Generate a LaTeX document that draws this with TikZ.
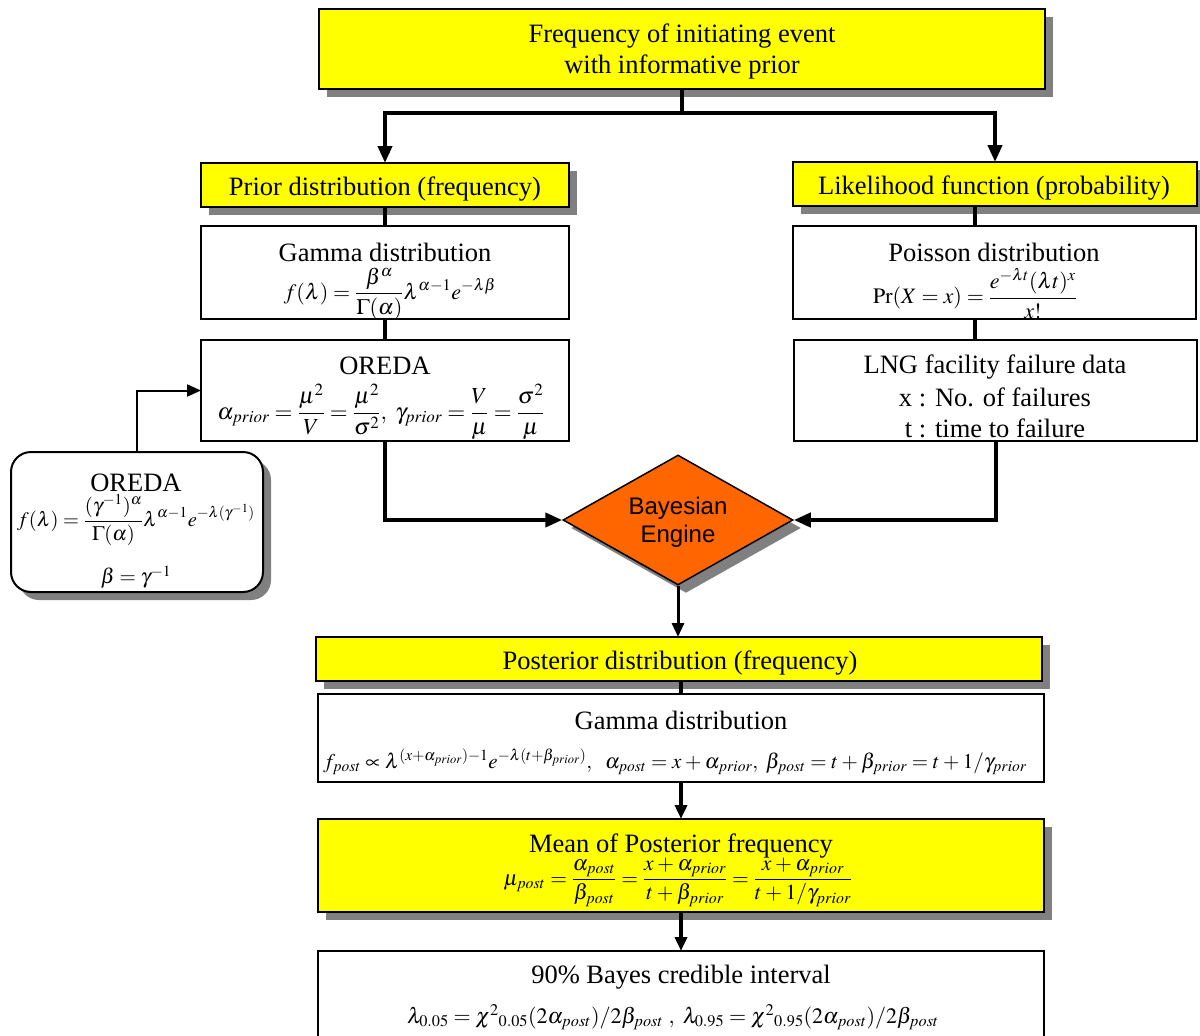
\documentclass[tikz,border=0pt]{standalone}
\usepackage{mathptmx}
\usepackage{fontspec}
\setmainfont{Liberation Serif}
\newfontfamily\arialf{Liberation Sans}
\usetikzlibrary{shapes.geometric,shadows,arrows.meta,calc}
\definecolor{shadowgray}{HTML}{808080}
\definecolor{orng}{HTML}{FF6600}
\definecolor{ylw}{HTML}{FFFF00}
\newcommand{\msz}[1]{\fontsize{#1}{#1}\selectfont\thickmuskip=4mu plus 2mu\medmuskip=3mu plus 1mu}
\tikzset{
  shad/.style={drop shadow={shadow xshift=8pt, shadow yshift=-8pt, fill=shadowgray, opacity=1}},
  ybox/.style={draw=black, line width=2pt, fill=ylw, shad, inner sep=0pt, outer sep=0pt},
  wbox/.style={draw=black, line width=2pt, fill=white, inner sep=0pt, outer sep=0pt},
  txt/.style={font=\fontsize{26.5}{31}\selectfont, align=center, inner sep=0pt, yshift=-2pt},
  conn/.style={line width=4pt},
  arr/.style={line width=4pt, -{Triangle[length=17pt,width=14pt]}},
  arrs/.style={line width=3pt, -{Triangle[length=14pt,width=12pt]}},
}
\begin{document}
\begin{tikzpicture}[x=1pt,y=-1pt]
\useasboundingbox (0,0) rectangle (1200,1036);
\fill[white] (0,0) rectangle (1200,1036);
% boxes
\node[ybox, minimum width=726pt, minimum height=80pt] (top) at (682,49) {};
\node[ybox, minimum width=368pt, minimum height=44pt] (prior) at (385,185) {};
\node[ybox, minimum width=404pt, minimum height=44pt] (lik) at (995,184) {};
\node[wbox, minimum width=368pt, minimum height=93pt] (gam) at (385,272.5) {};
\node[wbox, minimum width=368pt, minimum height=101pt] (ore) at (385,390.5) {};
\node[wbox, minimum width=403pt, minimum height=93pt] (poi) at (994.5,272.5) {};
\node[wbox, minimum width=403pt, minimum height=101pt] (lng) at (995.5,390.5) {};
\node[wbox, shad, rounded corners=20pt, minimum width=252pt, minimum height=140pt] (orr) at (137,522) {};
\node[diamond, aspect=2, draw=black, line width=1.5pt, fill=orng, shad, minimum width=230pt, minimum height=130pt, inner sep=0pt] (dia) at (678,520) {};
\node[ybox, minimum width=726pt, minimum height=44pt] (post) at (679,659) {};
\node[wbox, minimum width=726pt, minimum height=88pt] (gpost) at (681,738) {};
\node[ybox, minimum width=726pt, minimum height=93pt] (mean) at (681,865.5) {};
\node[wbox, minimum width=726pt, minimum height=98pt] (cred) at (681,1000) {};
% connectors
\coordinate (j) at (682,113);
\draw[conn] (top.south) -- ([yshift=-2pt]j);
\draw[arr] (j) -| (prior.north);
\draw[arr] (j) -| (lik.north);
\draw[conn] (prior.south) -- (gam.north);
\draw[conn] (gam.south) -- (ore.north);
\draw[conn] ([xshift=-20pt]lik.south) -- ([xshift=-20pt]lik.south |- poi.north);
\draw[conn] ([xshift=-20pt]lik.south |- poi.south) -- ([xshift=-20pt]lik.south |- lng.north);
\draw[arrs, line width=2pt] (orr.north) |- (ore.west);
\draw[arr] (ore.south) |- (dia.west);
\draw[arr] (lng.south) |- (dia.east);
\draw[arrs] (dia.south) -- (dia.south |- post.north);
\draw[conn] (gpost.north |- post.south) -- (gpost.north);
\draw[arrs, line width=4pt] (gpost.south) -- (mean.north);
\draw[arrs, line width=4pt] (mean.south) -- (cred.north);
% texts
\node[txt] (t1) at (682,34) {Frequency of initiating event};
\node[txt] (t2) at (682,65) {with informative prior};
\node[txt] (tprior) at (385,187) {Prior distribution (frequency)};
\node[txt] (tlik) at (994,186) {Likelihood function (probability)};
\node[txt] (tgam) at (385,250) {Gamma distribution};
\node[txt] (fgam) at (390,292) {\msz{22}$\displaystyle f(\lambda)=\frac{\beta^{\alpha}}{\Gamma(\alpha)}\lambda^{\alpha-1}e^{-\lambda\beta}$};
\node[txt] (tore) at (385,364) {OREDA};
\node[txt] (fore) at (381,410) {\msz{23}$\displaystyle \alpha_{prior}=\frac{\mu^{2}}{V}=\frac{\mu^{2}}{\sigma^{2}},\ \gamma_{prior}=\frac{V}{\mu}=\frac{\sigma^{2}}{\mu}$};
\node[txt] (tpoi) at (994,250) {Poisson distribution};
\node[txt] (fpoi) at (975,292) {\msz{22}$\displaystyle \Pr(X=x)=\frac{e^{-\lambda t}(\lambda t)^{x}}{x!}$};
\node[txt] (tlng1) at (995,365) {LNG facility failure data};
\node[txt] (tlng2) at (995,395) {x : No. of failures};
\node[txt] (tlng3) at (995,426) {t : time to failure};
\node[txt] (torr) at (136,481) {OREDA};
\node[txt] (forr) at (136,518) {\msz{20.5}$\displaystyle f(\lambda)=\frac{(\gamma^{-1})^{\alpha}}{\Gamma(\alpha)}\lambda^{\alpha-1}e^{-\lambda(\gamma^{-1})}$};
\node[txt] (borr) at (136,575) {\msz{21}$\beta=\gamma^{-1}$};
\node[font=\arialf\fontsize{24}{28}\selectfont, align=center, inner sep=0pt] (tdia) at (678,522) {Bayesian\\Engine};
\node[txt] (tpost) at (680,661) {Posterior distribution (frequency)};
\node[txt] (tgpost) at (681,718) {Gamma distribution};
\node[txt] (fgpost) at (675,760) {\msz{21}$f_{post}\propto\lambda^{(x+\alpha_{prior})-1}e^{-\lambda(t+\beta_{prior})},\ \ \alpha_{post}=x+\alpha_{prior},\ \beta_{post}=t+\beta_{prior}=t+1/\gamma_{prior}$};
\node[txt] (tmean) at (681,844) {Mean of Posterior frequency};
\node[txt] (fmean) at (678,880) {\msz{21.5}$\displaystyle \mu_{post}=\frac{\alpha_{post}}{\beta_{post}}=\frac{x+\alpha_{prior}}{t+\beta_{prior}}=\frac{x+\alpha_{prior}}{t+1/\gamma_{prior}}$};
\node[txt] (tcred) at (681,975) {90\% Bayes credible interval};
\node[txt] (fcred) at (673,1015) {\msz{22}$\lambda_{0.05}=\chi^{2}{}_{0.05}(2\alpha_{post})/2\beta_{post}\ ,\ \lambda_{0.95}=\chi^{2}{}_{0.95}(2\alpha_{post})/2\beta_{post}$};
\end{tikzpicture}
\end{document}
